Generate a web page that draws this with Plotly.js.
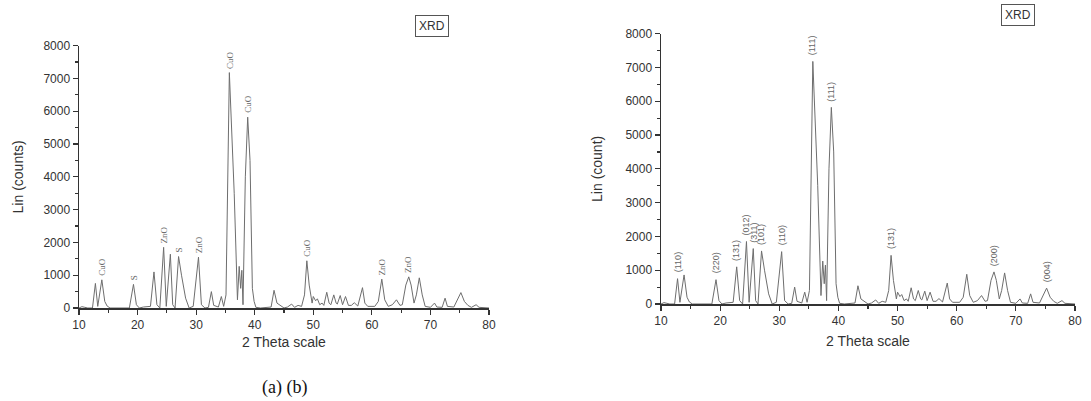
<!DOCTYPE html>
<html>
<head>
<meta charset="utf-8">
<script src="https://cdn.plot.ly/plotly-3.0.1.min.js"></script>
<style>html,body{margin:0;padding:0;background:#fff;}#chart{width:1091px;height:401px;}</style>
</head>
<body>
<div id="chart"></div>
<script>
// XRD pattern (2θ in degrees, intensity in counts)
const twoTheta = [10.0,10.5,11.0,11.5,12.3,12.8,13.2,13.9,14.4,14.8,15.3,18.6,19.3,19.8,20.3,21.0,22.2,22.8,23.3,23.8,24.45,24.9,25.6,26.0,26.4,27.0,27.5,28.2,28.8,29.5,30.4,30.9,31.5,32.1,32.6,33.0,33.8,34.3,34.7,35.1,35.67,36.1,36.5,37.05,37.35,37.6,37.8,38.0,38.4,38.8,39.2,39.6,39.9,40.2,41.0,42.8,43.3,43.8,44.3,45.0,45.6,46.3,46.8,47.4,48.0,48.5,48.9,49.3,49.8,50.0,50.4,50.7,51.1,51.5,51.8,52.3,52.7,53.0,53.5,53.9,54.1,54.6,55.0,55.5,56.0,56.5,57.0,57.6,58.4,58.8,59.3,60.5,61.1,61.7,62.2,62.8,63.5,64.2,64.8,65.2,65.8,66.3,66.7,67.2,67.6,68.1,68.6,69.1,70.0,70.7,71.1,72.0,72.5,72.9,74.0,74.6,75.2,75.8,76.4,77.0,77.8,78.3,79.5,80.0];
const counts   = [0,40,20,0,0,750,50,860,200,60,0,0,720,100,0,30,50,1100,100,0,1850,50,1640,100,0,1570,1000,300,0,50,1550,100,0,20,500,80,30,350,50,400,7180,5500,3500,250,1270,600,1150,100,4000,5820,4500,600,200,20,0,30,540,150,80,0,30,120,20,80,50,400,1440,700,150,350,220,280,100,150,80,480,150,100,400,150,120,380,100,350,80,80,160,60,620,150,50,50,200,880,250,50,100,250,80,100,700,950,700,150,400,920,400,50,20,150,30,20,300,50,30,250,470,200,80,20,100,20,0,0];

// Phase labels, panel (a)
const phaseLabels = ["CuO","S","ZnO","S","ZnO","CuO","CuO","CuO","ZnO","ZnO"];
const phaseAt     = [13.9,19.3,24.45,27.0,30.4,35.67,38.8,48.9,61.7,66.3];
// Miller indices, panel (b)
const hklLabels = ["(110)","(220)","(131)","(012)","(311)","(101)","(110)","(111)","(111)","(131)","(200)","(004)"];
const hklAt     = [12.8,19.3,22.8,24.45,25.6,27.0,30.4,35.67,38.8,48.9,66.3,75.2];

const xTicks = [10,20,30,40,50,60,70,80];
const yTicks = [0,1000,2000,3000,4000,5000,6000,7000,8000];

function countAt(x){
  let best = 0;
  for (let i = 0; i < twoTheta.length; i++) {
    if (Math.abs(twoTheta[i]-x) < Math.abs(twoTheta[best]-x)) best = i;
  }
  return counts[best];
}

const lineStyle = {color:'#6e6e6e', width:1};
const traces = [
  {x: twoTheta, y: counts, type:'scatter', mode:'lines', line: lineStyle, xaxis:'x', yaxis:'y', hoverinfo:'skip'},
  {x: twoTheta, y: counts, type:'scatter', mode:'lines', line: lineStyle, xaxis:'x2', yaxis:'y2', hoverinfo:'skip'}
];

const tickFont = {family:'Liberation Sans, Arial, sans-serif', size:12, color:'#333'};
const titleFont = {family:'Liberation Sans, Arial, sans-serif', size:14, color:'#333'};

function xAxis(domain, anchor, standoff){
  return {domain: domain, anchor: anchor, range:[10,80], tickvals: xTicks, ticktext: xTicks.map(String),
    showline:true, linecolor:'#333', linewidth:1.5, ticks:'outside', ticklen:5, tickcolor:'#333', tickwidth:1.2,
    minor:{ticks:'outside', ticklen:3, dtick:5, tick0:0, tickcolor:'#333'},
    showgrid:false, zeroline:false, tickfont: tickFont,
    title:{text:'2 Theta scale', font: titleFont, standoff: standoff}};
}
function yAxis(domain, anchor, label, standoff){
  return {domain: domain, anchor: anchor, range:[0,8000], tickvals: yTicks, ticktext: yTicks.map(String),
    showline:true, linecolor:'#333', linewidth:1.5, ticks:'outside', ticklen:5, tickcolor:'#333', tickwidth:1.2,
    minor:{ticks:'outside', ticklen:3, dtick:500, tick0:0, tickcolor:'#333'},
    showgrid:false, zeroline:false, tickfont: tickFont,
    title:{text: label, font: titleFont, standoff: standoff}};
}

const annotations = [];
phaseLabels.forEach((t,i)=>{
  annotations.push({xref:'x', yref:'y', x: phaseAt[i], y: countAt(phaseAt[i]), text: t, textangle:-90,
    showarrow:false, xanchor:'center', yanchor:'bottom', yshift:2,
    font:{family:'Liberation Serif, Times New Roman, serif', size:9, color:'#666'}});
});
hklLabels.forEach((t,i)=>{
  annotations.push({xref:'x2', yref:'y2', x: hklAt[i], y: countAt(hklAt[i]), text: t, textangle:-90,
    showarrow:false, xanchor:'center', yanchor:'bottom', yshift:4,
    font:{family:'Liberation Sans, Arial, sans-serif', size:9, color:'#666'}});
});
annotations.push({xref:'paper', yref:'paper', x: 432/1091, y: 1-26/401, text:'XRD', showarrow:false,
  xanchor:'center', yanchor:'middle', bordercolor:'#555', borderwidth:1, borderpad:3,
  font:{family:'Liberation Sans, Arial, sans-serif', size:12, color:'#333'}});
annotations.push({xref:'paper', yref:'paper', x: 1018/1091, y: 1-15/401, text:'XRD', showarrow:false,
  xanchor:'center', yanchor:'middle', bordercolor:'#555', borderwidth:1, borderpad:3,
  font:{family:'Liberation Sans, Arial, sans-serif', size:12, color:'#333'}});
annotations.push({xref:'paper', yref:'paper', x: 284/1091, y: 1-387/401, text:'(a) (b)', showarrow:false,
  xanchor:'center', yanchor:'middle',
  font:{family:'Liberation Serif, Times New Roman, serif', size:18, color:'#111'}});

const layout = {
  width:1091, height:401, margin:{l:0, r:0, t:0, b:0},
  paper_bgcolor:'#fff', plot_bgcolor:'#fff', showlegend:false,
  xaxis:  xAxis([79/1091, 489/1091], 'y', 6),
  yaxis:  yAxis([1-308/401, 1-45.7/401], 'x', 'Lin (counts)', 16),
  xaxis2: xAxis([661/1091, 1075/1091], 'y2', 9),
  yaxis2: yAxis([1-304/401, 1-33.7/401], 'x2', 'Lin (count)', 19),
  annotations: annotations
};

Plotly.newPlot('chart', traces, layout, {displayModeBar:false, staticPlot:true});
</script>
</body>
</html>
